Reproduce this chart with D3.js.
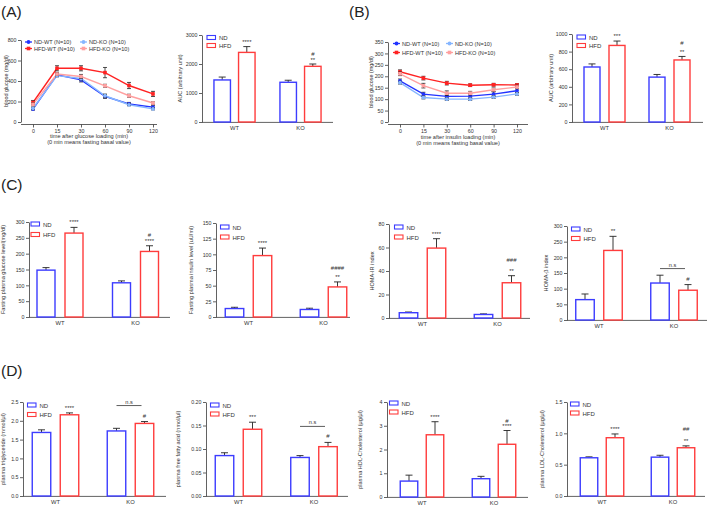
<!DOCTYPE html>
<html><head><meta charset="utf-8">
<script src="https://cdn.jsdelivr.net/npm/d3@7"></script>
<style>body{margin:0;background:#fff}</style>
</head><body><svg id="c" width="709" height="506"></svg>
<script>
// ---------------- DATA ----------------
const groups = ["WT", "KO"];
const diets = ["ND", "HFD"];
const timesMin = [0, 15, 30, 60, 90, 120];
const lineSeriesNames = ["ND-WT (N=10)", "HFD-WT (N=10)", "ND-KO (N=10)", "HFD-KO (N=10)"];

// (A) OGTT blood glucose (mg/dl)
const ogttNDWT = [126, 460, 411, 250, 176, 145];
const ogttNDWTErr = [10, 15, 20, 20, 15, 15];
const ogttHFDWT = [190, 524, 524, 482, 356, 274];
const ogttHFDWTErr = [20, 25, 25, 50, 30, 25];
const ogttNDKO = [134, 452, 424, 256, 168, 128];
const ogttNDKOErr = [10, 12, 15, 15, 10, 10];
const ogttHFDKO = [172, 468, 444, 353, 256, 185];
const ogttHFDKOErr = [15, 15, 20, 15, 15, 12];
// (A) AUC
const ogttAucND = [1450, 1370];
const ogttAucNDErr = [100, 70];
const ogttAucHFD = [2400, 1920];
const ogttAucHFDErr = [200, 80];
const ogttAucSig = [["****"], ["**", "#"]];

// (B) ITT blood glucose (mg/dl)
const ittNDWT = [180, 122, 112, 113, 122, 137];
const ittNDWTErr = [8, 8, 10, 10, 10, 10];
const ittHFDWT = [220, 192, 170, 161, 163, 162];
const ittHFDWTErr = [8, 8, 8, 6, 6, 6];
const ittNDKO = [172, 107, 100, 100, 109, 123];
const ittNDKOErr = [6, 6, 6, 6, 6, 6];
const ittHFDKO = [211, 159, 126, 126, 141, 153];
const ittHFDKOErr = [8, 10, 10, 8, 8, 8];
// (B) AUC
const ittAucND = [625, 510];
const ittAucNDErr = [35, 30];
const ittAucHFD = [870, 705];
const ittAucHFDErr = [50, 40];
const ittAucSig = [["***"], ["**", "#"]];

// (C)
const glucoseND = [148, 108];
const glucoseNDErr = [8, 6];
const glucoseHFD = [265, 207];
const glucoseHFDErr = [18, 18];
const glucoseSig = [["****"], ["****", "#"]];

const insulinND = [13.5, 12];
const insulinNDErr = [2, 2];
const insulinHFD = [98, 48];
const insulinHFDErr = [12, 8];
const insulinSig = [["****"], ["**", "####"]];

const homaIrND = [4.5, 3];
const homaIrNDErr = [0.6, 0.5];
const homaIrHFD = [59.5, 30];
const homaIrHFDErr = [8, 6];
const homaIrSig = [["****"], ["**", "###"]];

const homaBND = [65, 118];
const homaBNDErr = [18, 25];
const homaBHFD = [222, 95];
const homaBHFDErr = [45, 18];
const homaBSig = [["**"], ["#"]];

// (D)
const tgND = [1.69, 1.73];
const tgNDErr = [0.07, 0.07];
const tgHFD = [2.16, 1.93];
const tgHFDErr = [0.05, 0.05];
const tgSig = [["****"], ["#"]];

const ffaND = [0.086, 0.082];
const ffaNDErr = [0.006, 0.004];
const ffaHFD = [0.142, 0.105];
const ffaHFDErr = [0.015, 0.009];
const ffaSig = [["***"], ["#"]];

const hdlND = [0.67, 0.77];
const hdlNDErr = [0.25, 0.1];
const hdlHFD = [2.62, 2.22];
const hdlHFDErr = [0.55, 0.58];
const hdlSig = [["****"], ["****", "#"]];

const ldlND = [0.61, 0.62];
const ldlNDErr = [0.015, 0.03];
const ldlHFD = [0.93, 0.77];
const ldlHFDErr = [0.06, 0.03];
const ldlSig = [["****"], ["**", "##"]];

// ---------------- DRAW ----------------
const FONT = "'Liberation Sans', Arial, Helvetica, sans-serif";
const svg = d3.select("#c").attr("font-family", FONT);
const BLUE = "#3c3cff", RED = "#ff3c3c";
const AX = "#3a3a3a";

function styleAxis(g, fs) {
  g.selectAll("path.domain").attr("stroke", AX).attr("stroke-width", 0.8);
  g.selectAll(".tick line").attr("stroke", AX).attr("stroke-width", 0.8);
  g.selectAll(".tick text").attr("font-size", fs).attr("fill", "#333").attr("font-family", FONT);
}

function yLabel(x, yMid, text, fs) {
  svg.append("text")
    .attr("transform", `translate(${x + fs * 0.35},${yMid}) rotate(-90)`)
    .attr("text-anchor", "middle").attr("font-size", fs).attr("fill", "#333").text(text);
}

function barPanel(p) {
  const g = svg.append("g");
  const y = d3.scaleLinear().domain([0, p.max]).range([p.y0, p.y1]);
  const xg = d3.scalePoint().domain(groups).range(p.gx);
  const xd = d3.scaleOrdinal().domain(diets).range([-p.off, p.off]);
  const ticks = d3.range(0, p.max + p.step / 2, p.step);
  const ay = g.append("g").attr("transform", `translate(${p.x0},0)`)
    .call(d3.axisLeft(y).tickValues(ticks).tickSize(3).tickSizeOuter(0).tickPadding(1.5).tickFormat(p.fmt));
  styleAxis(ay, 5.3);
  g.append("line").attr("x1", p.x0).attr("x2", p.x1).attr("y1", p.y0 + 0.4).attr("y2", p.y0 + 0.4)
    .attr("stroke", AX).attr("stroke-width", 0.8);
  groups.forEach(gr => g.append("text").attr("x", xg(gr)).attr("y", p.y0 + 8)
    .attr("text-anchor", "middle").attr("font-size", 5.8).attr("fill", "#333").text(gr));
  yLabel(p.ylabX, (p.y0 + p.y1) / 2, p.ylabel, 5.6);

  const series = [
    { d: "ND", v: p.nd, e: p.ndErr, c: BLUE },
    { d: "HFD", v: p.hfd, e: p.hfdErr, c: RED }
  ];
  series.forEach(s => {
    groups.forEach((gr, i) => {
      const cx = xg(gr) + xd(s.d);
      const top = y(s.v[i]), etop = y(s.v[i] + s.e[i]);
      g.append("line").attr("x1", cx).attr("x2", cx).attr("y1", top).attr("y2", etop)
        .attr("stroke", "#222").attr("stroke-width", 0.9);
      g.append("line").attr("x1", cx - 3.5).attr("x2", cx + 3.5).attr("y1", etop).attr("y2", etop)
        .attr("stroke", "#222").attr("stroke-width", 0.9);
      g.append("rect").attr("x", cx - p.bw / 2).attr("y", top).attr("width", p.bw)
        .attr("height", p.y0 - top).attr("fill", "#fff").attr("stroke", s.c).attr("stroke-width", 1.4);
    });
  });
  // significance marks above HFD bars
  groups.forEach((gr, i) => {
    const cx = xg(gr) + xd("HFD");
    const etop = y(p.hfd[i] + p.hfdErr[i]);
    const labs = p.sig[i];
    let base = etop - (labs[0][0] === "*" ? (i === 0 ? 3 : 2.5) : 4);
    labs.forEach((lab, k) => {
      g.append("text").attr("x", cx).attr("y", base).attr("text-anchor", "middle")
        .attr("font-size", 6).attr("fill", "#333").text(lab);
      base -= p.gap;
    });
    if (p.ns && i === 1) {
      const ly = etop - 16;
      const xa = xg(gr) + xd("ND"), xb = cx - 3;
      g.append("line").attr("x1", xa).attr("x2", xb).attr("y1", ly).attr("y2", ly)
        .attr("stroke", "#333").attr("stroke-width", 0.8);
      g.append("text").attr("x", (xa + xb) / 2).attr("y", ly - 2).attr("text-anchor", "middle")
        .attr("font-size", 5.6).attr("fill", "#333").text("n.s");
    }
  });
  // legend
  diets.forEach((d, k) => {
    const ly = p.leg[1] + k * p.legGap;
    g.append("rect").attr("x", p.leg[0]).attr("y", ly).attr("width", 8.5).attr("height", 4)
      .attr("fill", "#fff").attr("stroke", k === 0 ? BLUE : RED).attr("stroke-width", 1.1);
    g.append("text").attr("x", p.leg[0] + 12).attr("y", ly + 4.6).attr("font-size", 6)
      .attr("fill", "#333").text(d);
  });
}

const lineStyles = [
  { c: "#2233ff", m: "circle" },
  { c: "#ff2222", m: "square" },
  { c: "#86b6ff", m: "circle" },
  { c: "#ffa0a0", m: "square" }
];

function marker(g, shape, x, y, c) {
  if (shape === "circle") g.append("circle").attr("cx", x).attr("cy", y).attr("r", 1.9).attr("fill", c);
  else g.append("rect").attr("x", x - 1.8).attr("y", y - 1.8).attr("width", 3.6).attr("height", 3.6).attr("fill", c);
}

function linePanel(p) {
  const g = svg.append("g");
  const x = d3.scalePoint().domain(timesMin).range(p.xr);
  const y = d3.scaleLinear().domain([0, p.max]).range([p.y0, p.y1]);
  const ay = g.append("g").attr("transform", `translate(${p.x0},0)`)
    .call(d3.axisLeft(y).tickValues(d3.range(0, p.max + 1, p.step)).tickSize(3).tickSizeOuter(0).tickPadding(1.5));
  styleAxis(ay, 5.3);
  const ax = g.append("g").attr("transform", `translate(0,${p.y0 + 2.5})`)
    .call(d3.axisBottom(x).tickSize(3).tickSizeOuter(0).tickPadding(2));
  ax.select("path.domain").remove();
  styleAxis(ax, 5.3);
  g.append("line").attr("x1", p.x0).attr("x2", p.x1).attr("y1", p.y0 + 2.5).attr("y2", p.y0 + 2.5)
    .attr("stroke", AX).attr("stroke-width", 0.8);
  p.xlabel.forEach((t, k) => g.append("text").attr("x", (p.x0 + p.x1) / 2).attr("y", p.xlabY + k * 6)
    .attr("text-anchor", "middle").attr("font-size", 5.6).attr("fill", "#333").text(t));
  yLabel(p.ylabX, (p.y0 + p.y1) / 2, "blood glucose (mg/dl)", 5.4);

  const line = d3.line().x((d, i) => x(timesMin[i])).y(d => y(d));
  p.series.forEach((s, si) => {
    g.append("path").attr("d", line(s.v)).attr("fill", "none")
      .attr("stroke", lineStyles[si].c).attr("stroke-width", 1.4);
  });
  p.series.forEach((s, si) => {
    s.v.forEach((v, i) => {
      const cx = x(timesMin[i]);
      const a = y(v + s.e[i]), b = y(v - s.e[i]);
      g.append("line").attr("x1", cx).attr("x2", cx).attr("y1", a).attr("y2", b).attr("stroke", "#222").attr("stroke-width", 0.8);
      [a, b].forEach(yy => g.append("line").attr("x1", cx - 2).attr("x2", cx + 2).attr("y1", yy).attr("y2", yy)
        .attr("stroke", "#222").attr("stroke-width", 0.8));
      marker(g, lineStyles[si].m, cx, y(v), lineStyles[si].c);
    });
  });
  // legend
  lineSeriesNames.forEach((name, si) => {
    const colX = si < 2 ? p.leg[0] : p.leg[2];
    const ly = p.leg[1] + (si % 2) * p.legGap;
    g.append("line").attr("x1", colX).attr("x2", colX + 7).attr("y1", ly).attr("y2", ly)
      .attr("stroke", lineStyles[si].c).attr("stroke-width", 1.3);
    marker(g, lineStyles[si].m, colX + 3.5, ly, lineStyles[si].c);
    g.append("text").attr("x", colX + 9).attr("y", ly + 2).attr("font-size", 5.6).attr("fill", "#333").text(name);
  });
}

// panel letters
[["(A)", 1, 17], ["(B)", 349, 17], ["(C)", 1, 190], ["(D)", 1, 376]].forEach(([t, x, y]) =>
  svg.append("text").attr("x", x).attr("y", y).attr("font-size", 15.5).attr("fill", "#222").text(t));

linePanel({
  x0: 21, x1: 157, xr: [33, 153], y0: 122, y1: 40, max: 800, step: 200, ylabX: 6,
  xlabel: ["time after glucose loading (min)", "(0 min means fasting basal value)"], xlabY: 138,
  series: [{ v: ogttNDWT, e: ogttNDWTErr }, { v: ogttHFDWT, e: ogttHFDWTErr }, { v: ogttNDKO, e: ogttNDKOErr }, { v: ogttHFDKO, e: ogttHFDKOErr }],
  leg: [25, 42, 80], legGap: 6.5
});
linePanel({
  x0: 388, x1: 528, xr: [400, 517], y0: 122, y1: 42, max: 350, step: 50, ylabX: 371,
  xlabel: ["time after insulin loading (min)", "(0 min means fasting basal value)"], xlabY: 138.5,
  series: [{ v: ittNDWT, e: ittNDWTErr }, { v: ittHFDWT, e: ittHFDWTErr }, { v: ittNDKO, e: ittNDKOErr }, { v: ittHFDKO, e: ittHFDKOErr }],
  leg: [393, 43.5, 446], legGap: 9
});

barPanel({ x0: 202, x1: 333, y0: 122, y1: 35, max: 3000, step: 1000, fmt: d3.format("d"), gx: [234.5, 300.5], bw: 16.5, off: 12.3,
  ylabX: 180, ylabel: "AUC (arbitrary unit)", nd: ogttAucND, ndErr: ogttAucNDErr, hfd: ogttAucHFD, hfdErr: ogttAucHFDErr,
  sig: ogttAucSig, gap: 6, leg: [207, 35.5], legGap: 8 });
barPanel({ x0: 572, x1: 703, y0: 122, y1: 34, max: 1000, step: 200, fmt: d3.format("d"), gx: [604.5, 669.5], bw: 16, off: 12.5,
  ylabX: 551, ylabel: "AUC (arbitrary unit)", nd: ittAucND, ndErr: ittAucNDErr, hfd: ittAucHFD, hfdErr: ittAucHFDErr,
  sig: ittAucSig, gap: 9, leg: [577, 35], legGap: 8.5 });

barPanel({ x0: 29, x1: 170, y0: 317, y1: 222, max: 300, step: 50, fmt: d3.format("d"), gx: [60, 135.5], bw: 18, off: 14,
  ylabX: 3, ylabel: "Fasting plasma glucose level(mg/dl)", nd: glucoseND, ndErr: glucoseNDErr, hfd: glucoseHFD, hfdErr: glucoseHFDErr,
  sig: glucoseSig, gap: 6, leg: [31, 222], legGap: 10.5 });
barPanel({ x0: 216, x1: 350, y0: 317, y1: 223, max: 150, step: 25, fmt: d3.format("d"), gx: [248.5, 323.5], bw: 18.5, off: 14,
  ylabX: 191, ylabel: "Fasting plasma insulin level (uU/ml)", nd: insulinND, ndErr: insulinNDErr, hfd: insulinHFD, hfdErr: insulinHFDErr,
  sig: insulinSig, gap: 9, leg: [220.5, 225], legGap: 10 });
barPanel({ x0: 389, x1: 530, y0: 318, y1: 224, max: 80, step: 20, fmt: d3.format("d"), gx: [422.5, 497.5], bw: 18.5, off: 14,
  ylabX: 372, ylabel: "HOMA-IR index", nd: homaIrND, ndErr: homaIrNDErr, hfd: homaIrHFD, hfdErr: homaIrHFDErr,
  sig: homaIrSig, gap: 11, leg: [394.5, 225], legGap: 10 });
barPanel({ x0: 567, x1: 707, y0: 320, y1: 226, max: 300, step: 50, fmt: d3.format("d"), gx: [599, 674], bw: 18.5, off: 14,
  ylabX: 546, ylabel: "HOMA-β index", nd: homaBND, ndErr: homaBNDErr, hfd: homaBHFD, hfdErr: homaBHFDErr,
  sig: homaBSig, gap: 6, ns: true, leg: [571.5, 227], legGap: 9.5 });

barPanel({ x0: 23, x1: 166, y0: 496, y1: 402, max: 2.5, step: 0.5, fmt: d3.format(".1f"), gx: [55.5, 130.5], bw: 18.5, off: 14,
  ylabX: 3, ylabel: "plasma triglyceride (mmol/μl)", nd: tgND, ndErr: tgNDErr, hfd: tgHFD, hfdErr: tgHFDErr,
  sig: tgSig, gap: 6, ns: true, leg: [27.5, 403], legGap: 9.5 });
barPanel({ x0: 206, x1: 348, y0: 496, y1: 402, max: 0.2, step: 0.05, fmt: d3.format(".2f"), gx: [238.5, 314], bw: 18.5, off: 14,
  ylabX: 178, ylabel: "plasma free fatty acid (nmol/μl)", nd: ffaND, ndErr: ffaNDErr, hfd: ffaHFD, hfdErr: ffaHFDErr,
  sig: ffaSig, gap: 6, ns: true, leg: [210.5, 403], legGap: 9 });
barPanel({ x0: 387, x1: 528, y0: 497, y1: 402, max: 4, step: 1, fmt: d3.format("d"), gx: [422, 494], bw: 17.5, off: 13,
  ylabX: 360, ylabel: "plasma HDL-Cholesterol (μg/μl)", nd: hdlND, ndErr: hdlNDErr, hfd: hdlHFD, hfdErr: hdlHFDErr,
  sig: hdlSig, gap: 5, leg: [389.5, 401], legGap: 9 });
barPanel({ x0: 567, x1: 705, y0: 496, y1: 402, max: 1.5, step: 0.5, fmt: d3.format(".1f"), gx: [602, 673], bw: 17.5, off: 13,
  ylabX: 542, ylabel: "plasma LDL-Cholesterol (μg/μl)", nd: ldlND, ndErr: ldlNDErr, hfd: ldlHFD, hfdErr: ldlHFDErr,
  sig: ldlSig, gap: 12, leg: [570.5, 402], legGap: 9 });
</script>
</body></html>
